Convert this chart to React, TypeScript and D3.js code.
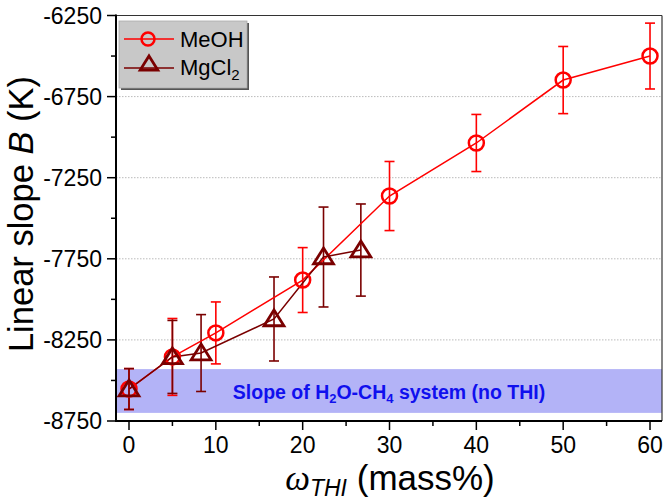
import React from "react";
import * as d3 from "d3";

const meohX = [0, 5, 10, 20, 30, 40, 50, 60];
const meohY = [-8553, -8355, -8207, -7881, -7363, -7036, -6648, -6500];
const meohErr = [126, 237, 191, 200, 213, 176, 207, 203];

const mgX = [0, 5, 8.3, 16.7, 22.4, 26.7];
const mgY = [-8553, -8355, -8331, -8121, -7739, -7696];
const mgErr = [126, 225, 237, 259, 308, 284];

const yTicks = [-8750, -8250, -7750, -7250, -6750, -6250];
const yMinor = [-8500, -8000, -7500, -7000, -6500];
const xTicks = [0, 10, 20, 30, 40, 50, 60];
const xMinor = [5, 15, 25, 35, 45, 55];
const gridY = [-8250, -7750, -7250, -6750];
const band = [-8430, -8700];

const W = 664, H = 503;
const L = 116, R = 662, T = 15.5, B = 421;

export default function App() {
  const x = d3.scaleLinear().domain([-1.497, 61.38]).range([L, R]);
  const y = d3.scaleLinear().domain([-8750, -6250]).range([B, T]);
  const line = d3.line<[number, number]>().x(d => x(d[0])).y(d => y(d[1]));
  const meoh = meohX.map((v, i) => [v, meohY[i]] as [number, number]);
  const mg = mgX.map((v, i) => [v, mgY[i]] as [number, number]);
  const font = "'Liberation Sans', Arial, Helvetica, sans-serif";
  const red = "#ff0000";
  const dred = "#7a0000";
  const tri = (cx: number, cy: number, s: number) =>
    `M${cx},${cy - s} L${cx + s * 1.1},${cy + s * 0.75} L${cx - s * 1.1},${cy + s * 0.75} Z`;

  const errBars = (xs: number[], ys: number[], es: number[], color: string) =>
    xs.map((v, i) => {
      const cx = x(v);
      const y1 = y(ys[i] + es[i]);
      const y2 = y(ys[i] - es[i]);
      return (
        <g key={i} stroke={color} strokeWidth={1.6}>
          <line x1={cx} x2={cx} y1={y1} y2={y2} />
          <line x1={cx - 5} x2={cx + 5} y1={y1} y2={y1} />
          <line x1={cx - 5} x2={cx + 5} y1={y2} y2={y2} />
        </g>
      );
    });

  return (
    <svg width={W} height={H} style={{ position: "absolute", left: 0, top: 0 }} fontFamily={font}>
      <rect width={W} height={H} fill="white" />
      {/* band */}
      <rect x={L} y={y(band[0])} width={R - L} height={y(band[1]) - y(band[0])} fill="#b3b3f7" />
      {/* grid */}
      {gridY.map(v => (
        <line key={v} x1={L} x2={R} y1={y(v)} y2={y(v)} stroke="#bbbbbb" strokeWidth={1} strokeDasharray="1.5,1.5" />
      ))}
      <text x={389} y={399} textAnchor="middle" fill="#1010ee" fontWeight="bold" fontSize={19.5}>
        Slope of H<tspan fontSize={13} dy={4}>2</tspan><tspan dy={-4}>O-CH</tspan><tspan fontSize={13} dy={4}>4</tspan><tspan dy={-4}> system (no THI)</tspan>
      </text>
      {/* frame */}
      <line x1={L} x2={R} y1={T} y2={T} stroke="#333" strokeWidth={1.2} />
      <line x1={R} x2={R} y1={T} y2={B} stroke="#333" strokeWidth={1.2} />
      <line x1={L} x2={L} y1={T - 1} y2={B + 1} stroke="#000" strokeWidth={2} />
      <line x1={L - 1} x2={R} y1={B} y2={B} stroke="#000" strokeWidth={2} />
      {/* y ticks */}
      {yTicks.map(v => (
        <g key={v}>
          <line x1={L - 9} x2={L} y1={y(v)} y2={y(v)} stroke="#000" strokeWidth={1.5} />
          <text x={L - 14} y={y(v) + 8} textAnchor="end" fontSize={23}>{v}</text>
        </g>
      ))}
      {yMinor.map(v => (
        <line key={v} x1={L - 5} x2={L} y1={y(v)} y2={y(v)} stroke="#000" strokeWidth={1.5} />
      ))}
      {/* x ticks */}
      {xTicks.map(v => (
        <g key={v}>
          <line x1={x(v)} x2={x(v)} y1={B} y2={B + 9} stroke="#000" strokeWidth={1.5} />
          <text x={x(v)} y={B + 32} textAnchor="middle" fontSize={23}>{v}</text>
        </g>
      ))}
      {xMinor.map(v => (
        <line key={v} x1={x(v)} x2={x(v)} y1={B} y2={B + 5} stroke="#000" strokeWidth={1.5} />
      ))}
      {/* axis titles */}
      <text transform={`translate(33,214) rotate(-90)`} textAnchor="middle" fontSize={34.5}>
        Linear slope <tspan fontStyle="italic">B</tspan> (K)
      </text>
      <text x={390} y={490} textAnchor="middle" fontSize={35}>
        <tspan fontStyle="italic" fontFamily="'Liberation Serif', 'Times New Roman', serif">ω</tspan>
        <tspan fontStyle="italic" fontSize={23} dy={6}>THI</tspan>
        <tspan dy={-6}> (mass%)</tspan>
      </text>
      {/* series */}
      {errBars(meohX, meohY, meohErr, red)}
      {errBars(mgX, mgY, mgErr, dred)}
      <path d={line(meoh) || ""} fill="none" stroke={red} strokeWidth={1.5} />
      <path d={line(mg) || ""} fill="none" stroke={dred} strokeWidth={1.5} />
      {meoh.map((d, i) => (
        <circle key={i} cx={x(d[0])} cy={y(d[1])} r={7.5} fill="none" stroke={red} strokeWidth={2.5} />
      ))}
      {mg.map((d, i) => (
        <path key={i} d={tri(x(d[0]), y(d[1]), 9)} fill="none" stroke={dred} strokeWidth={2.8} strokeLinejoin="miter" />
      ))}
      {/* legend */}
      <g>
        <rect x={121} y={23} width={128} height={67} fill="#555" />
        <rect x={119} y={21} width={128} height={67} fill="#c8c8c8" stroke="#aaa" strokeWidth={0.8} />
        <line x1={124} x2={174} y1={39} y2={39} stroke={red} strokeWidth={1.5} />
        <circle cx={148} cy={39} r={6.5} fill="none" stroke={red} strokeWidth={2.5} />
        <text x={180} y={47} fontSize={22}>MeOH</text>
        <line x1={124} x2={174} y1={68} y2={68} stroke={dred} strokeWidth={1.5} />
        <path d={tri(149, 64, 8)} fill="none" stroke={dred} strokeWidth={2.8} />
        <text x={180} y={75} fontSize={22}>
          MgCl<tspan fontSize={15} dy={5}>2</tspan>
        </text>
      </g>
    </svg>
  );
}
